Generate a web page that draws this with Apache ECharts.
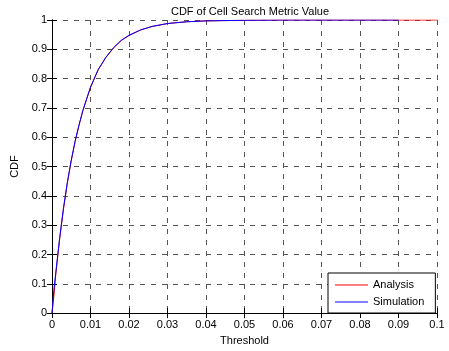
<!DOCTYPE html>
<html>
<head>
<meta charset="utf-8">
<script src="https://cdn.jsdelivr.net/npm/echarts@6/dist/echarts.min.js"></script>
<style>
  html, body { margin: 0; padding: 0; background: #fff; }
  #chart { width: 449px; height: 351px; }
</style>
</head>
<body>
<div id="chart"></div>
<script>
// threshold values (x) and CDF readings
const thresholds = [0, 0.0005, 0.001, 0.002, 0.003, 0.004, 0.005, 0.006, 0.007, 0.008, 0.009, 0.010,
  0.012, 0.014, 0.016, 0.018, 0.020, 0.023, 0.026, 0.030, 0.035, 0.040, 0.050, 0.060, 0.070, 0.080, 0.090, 0.100]
const analysisCdf = [0, 0.06, 0.135, 0.255, 0.357, 0.445, 0.52, 0.585, 0.64, 0.69, 0.73, 0.77,
  0.83, 0.872, 0.905, 0.93, 0.947, 0.966, 0.978, 0.988, 0.994, 0.997, 0.999, 1, 1, 1, 1, 1]
const simulationCdf = [0, 0.08, 0.14, 0.257, 0.36, 0.447, 0.522, 0.586, 0.641, 0.69, 0.731, 0.771,
  0.831, 0.873, 0.906, 0.931, 0.948, 0.966, 0.978, 0.988, 0.994, 0.997, 0.999, 1, 1, 1, 1]
const xTicks = [0, 0.01, 0.02, 0.03, 0.04, 0.05, 0.06, 0.07, 0.08, 0.09, 0.1]
const yTicks = [0, 0.1, 0.2, 0.3, 0.4, 0.5, 0.6, 0.7, 0.8, 0.9, 1]

const font = 'Liberation Sans, Arial, sans-serif'
const pairs = (xs, ys) => ys.map((y, i) => [xs[i], y])

const gridLine = { show: true, lineStyle: { color: '#555', type: [5, 6], width: 1 } }
const tick = { show: true, inside: true, length: 5, lineStyle: { color: '#000' } }

const chart = echarts.init(document.getElementById('chart'))
chart.setOption({
  animation: false,
  backgroundColor: '#fff',
  title: {
    text: 'CDF of Cell Search Metric Value',
    left: 245, top: 1, textAlign: 'center',
    textStyle: { fontFamily: font, fontSize: 11, fontWeight: 'normal', color: '#000' }
  },
  grid: { left: 52, right: 12, top: 20, bottom: 37 },
  legend: {
    orient: 'vertical',
    left: 328, top: 273,
    padding: [6, 11, 5, 7],
    itemGap: 5,
    icon: 'rect',
    itemWidth: 33,
    itemHeight: 1,
    borderColor: '#000', borderWidth: 1,
    backgroundColor: '#fff',
    textStyle: { fontFamily: font, fontSize: 11, color: '#000', height: 12, lineHeight: 12 },
    data: ['Analysis', 'Simulation']
  },
  xAxis: [{
    type: 'value', min: 0, max: 0.1, interval: 0.01,
    name: 'Threshold', nameLocation: 'middle', nameGap: 20,
    nameTextStyle: { fontFamily: font, fontSize: 11, color: '#000' },
    axisLine: { show: true, lineStyle: { color: '#000' } },
    axisTick: tick,
    axisLabel: { fontFamily: font, fontSize: 11, color: '#000', margin: 6,
      formatter: v => String(+v.toFixed(2)) },
    splitLine: gridLine
  }, {
    type: 'value', min: 0, max: 0.1, interval: 0.01, position: 'top',
    axisLine: { show: true, lineStyle: { color: '#000' } },
    axisTick: tick, axisLabel: { show: false }, splitLine: { show: false }
  }],
  yAxis: [{
    type: 'value', min: 0, max: 1, interval: 0.1,
    name: 'CDF', nameLocation: 'middle', nameGap: 27, nameRotate: 90,
    nameTextStyle: { fontFamily: font, fontSize: 11, color: '#000' },
    axisLine: { show: true, lineStyle: { color: '#000' } },
    axisTick: tick,
    axisLabel: { fontFamily: font, fontSize: 11, color: '#000', margin: 5,
      formatter: v => String(+v.toFixed(1)) },
    splitLine: gridLine
  }, {
    type: 'value', min: 0, max: 1, interval: 0.1, position: 'right',
    axisLine: { show: true, lineStyle: { color: '#000' } },
    axisTick: tick, axisLabel: { show: false }, splitLine: { show: false }
  }],
  series: [
    {
      name: 'Analysis', type: 'line', symbol: 'none',
      data: pairs(thresholds, analysisCdf),
      lineStyle: { color: '#ff0000', width: 1 }, itemStyle: { color: '#ff0000' }
    },
    {
      name: 'Simulation', type: 'line', symbol: 'none',
      data: pairs(thresholds, simulationCdf),
      lineStyle: { color: '#0000ff', width: 1 }, itemStyle: { color: '#0000ff' }
    }
  ]
})
</script>
</body>
</html>
